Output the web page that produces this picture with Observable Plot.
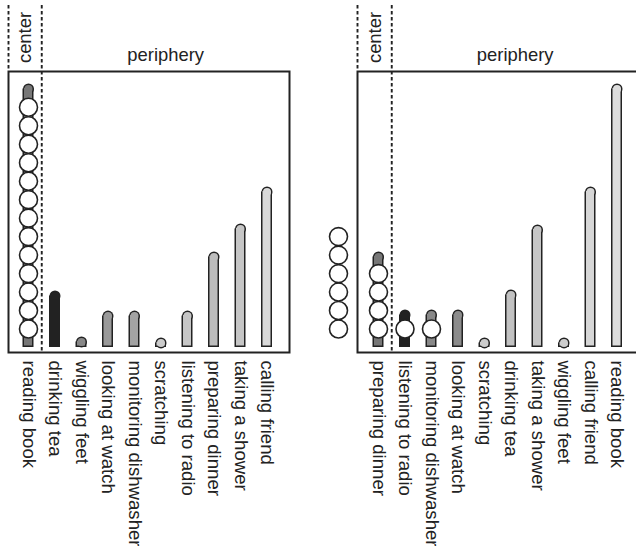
<!DOCTYPE html>
<html><head><meta charset="utf-8">
<script src="https://cdn.jsdelivr.net/npm/d3@7"></script>
<script src="https://cdn.jsdelivr.net/npm/@observablehq/plot@0.6"></script>
<style>
html,body{margin:0;padding:0;background:#fff;}
#wrap{position:relative;width:636px;height:546px;overflow:hidden;background:#fff;}
#wrap svg{position:absolute;top:0;}
</style></head><body><div id="wrap"></div>
<script>
// ---- data ----
const leftCategories = ["reading book","drinking tea","wiggling feet","looking at watch","monitoring dishwasher","scratching","listening to radio","preparing dinner","taking a shower","calling friend"];
const leftValues = [100, 21.6, 4.2, 14.0, 14.0, 3.8, 14.0, 36.4, 47.0, 61.0];
const leftColors = ["#777777","#222222","#888888","#999999","#a3a3a3","#cccccc","#c6c6c6","#bdbdbd","#c6c6c6","#d9d9d9"];
const leftCircles = [13, 0, 0, 0, 0, 0, 0, 0, 0, 0];
const leftUnplaced = 0;

const rightCategories = ["preparing dinner","listening to radio","monitoring dishwasher","looking at watch","scratching","drinking tea","taking a shower","wiggling feet","calling friend","reading book"];
const rightValues = [36.4, 14.4, 14.4, 14.4, 3.8, 22.0, 46.6, 3.8, 61.0, 100];
const rightColors = ["#777777","#222222","#888888","#8c8c8c","#cccccc","#c2c2c2","#c6c6c6","#cccccc","#d6d6d6","#dddddd"];
const rightCircles = [4, 1, 1, 0, 0, 0, 0, 0, 0, 0];
const rightUnplaced = 6;

const regionLabels = ["center", "periphery"];
const circleUnit = 7; // spacing of stacked circles, in value units

// ---- drawing ----
const FONT = "'Liberation Sans', Arial, Helvetica, sans-serif";
const INK = "#222";
const STEP = 26.5;

function panel(cats, vals, cols, circ, unplaced, L) {
  const bars = cats.map((c, i) => ({cat: c, value: vals[i], color: cols[i]}));
  const rows = [];
  cats.forEach((c, i) => { for (let k = 0; k < circ[i]; k++) rows.push({cat: c, k}); });
  const loose = d3.range(unplaced).map(k => ({k}));
  const frameRight = L.width - L.marginRight;
  const c0 = L.x0 + STEP / 2;                // center of first band
  const b1 = L.x0 + STEP;                     // start of second band (center/periphery split)
  const outerDx = L.marginLeft - c0;
  const centerDx = (L.marginLeft + b1) / 2 - c0;
  const periphDx = (b1 + frameRight) / 2 - (L.marginLeft + frameRight) / 2;
  const frameBottom = 546 - L.marginBottom;

  const out = (STEP - 11) / 2, inn = (STEP - 8) / 2;
  return Plot.plot({
    width: L.width, height: 546,
    marginLeft: L.marginLeft, marginRight: L.marginRight, marginTop: 71, marginBottom: L.marginBottom,
    style: {fontFamily: FONT, background: "transparent", overflow: "visible"},
    x: {type: "band", domain: cats, range: [L.x0, L.x0 + STEP * cats.length], padding: 0, round: false, axis: null},
    y: {domain: [0, 100], range: [347, 83], axis: null},
    marks: [
      // bar outline layer
      Plot.barY(bars, {x: "cat", y: "value", fill: INK, insetLeft: out, insetRight: out, insetTop: 5.5}),
      Plot.dot(bars, {x: "cat", y: "value", dy: 5.5, r: 5.5, fill: INK}),
      // bar fill layer
      Plot.barY(bars, {x: "cat", y: "value", fill: d => d.color, insetLeft: inn, insetRight: inn, insetTop: 5, insetBottom: 1.5}),
      Plot.dot(bars, {x: "cat", y: "value", dy: 5.5, r: 4, fill: d => d.color}),
      // stacked circles
      Plot.dot(rows, {x: "cat", y: d => circleUnit * (d.k + 1), r: 9, fill: "white", stroke: INK, strokeWidth: 1.6}),
      Plot.dot(loose, {y: d => circleUnit * (d.k + 1), frameAnchor: "left", dx: -19, r: 9, fill: "white", stroke: INK, strokeWidth: 1.6}),
      // dashed region separators
      Plot.ruleX([cats[1]], {x: d => d, dx: -STEP / 2, insetTop: -66, stroke: INK, strokeWidth: 1.9, strokeDasharray: "3.5,2.5"}),
      Plot.ruleX([cats[0]], {x: d => d, dx: outerDx, insetTop: -66, insetBottom: frameBottom - 71, stroke: INK, strokeWidth: 1.9, strokeDasharray: "3.5,2.5"}),
      Plot.frame({stroke: INK, strokeWidth: 2}),
      // region labels
      Plot.text([regionLabels[0]], {x: () => cats[0], dx: centerDx, frameAnchor: "top", dy: -34, rotate: -90, textAnchor: "middle", lineAnchor: "middle", fontSize: 18.4, fill: INK, fontFamily: FONT}),
      Plot.text([regionLabels[1]], {frameAnchor: "top", dx: periphDx, dy: -11, textAnchor: "middle", lineAnchor: "bottom", fontSize: 18.4, fill: INK, fontFamily: FONT}),
      // category labels
      Plot.text(cats, {x: d => d, frameAnchor: "bottom", dy: 8, rotate: 90, textAnchor: "start", lineAnchor: "middle", fontSize: 18.6, fill: INK, fontFamily: FONT})
    ]
  });
}

const wrap = document.getElementById("wrap");
const left = panel(leftCategories, leftValues, leftColors, leftCircles, leftUnplaced,
  {width: 318, marginLeft: 8, marginRight: 29, marginBottom: 194, x0: 14.75});
left.style.left = "0px";
const right = panel(rightCategories, rightValues, rightColors, rightCircles, rightUnplaced,
  {width: 322, marginLeft: 39, marginRight: 2, marginBottom: 194, x0: 46.75});
right.style.left = "318px";
wrap.appendChild(left);
wrap.appendChild(right);
</script></body></html>
